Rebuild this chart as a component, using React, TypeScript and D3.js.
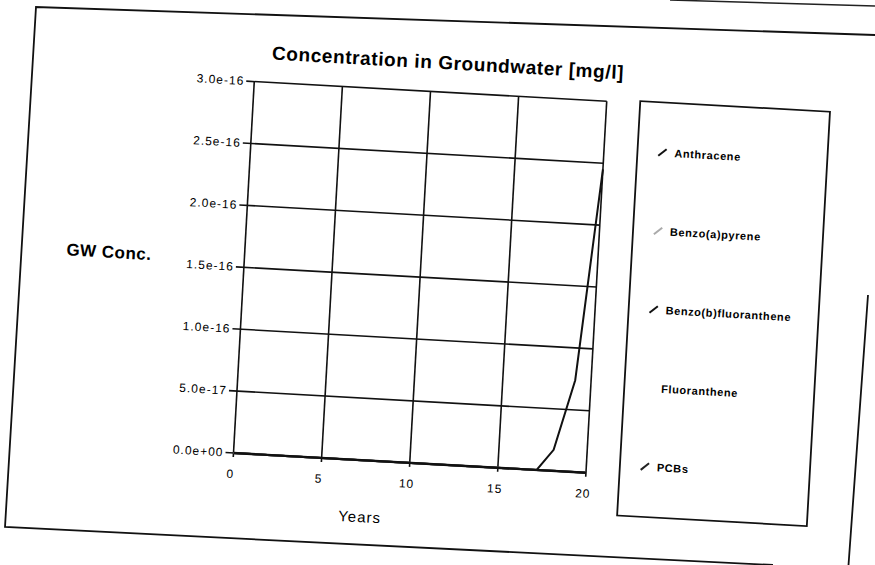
import { useEffect, useRef } from 'react';
import * as d3 from 'd3';

// values
const years = [0, 17.2, 18.1, 19.1, 20];
const seriesNames = [
  'Anthracene',
  'Benzo(a)pyrene',
  'Benzo(b)fluoranthene',
  'Fluoranthene',
  'PCBs',
];
const anthracene = [0, 0, 1.7e-17, 7.4e-17, 2.45e-16];
const benzoAPyrene = [0, 0, 0, 0, 0];
const benzoBFluoranthene = [0, 0, 0, 0, 0];
const fluoranthene = [0, 0, 0, 0, 0];
const pcbs = [0, 0, 0, 0, 0];
const seriesColors = ['#111', '#aaa', '#111', '#fff', '#222'];

const xTicks = [0, 5, 10, 15, 20];
const yTicks = [0, 5e-17, 1e-16, 1.5e-16, 2e-16, 2.5e-16, 3e-16];
const yTickLabels = ['0.0e+00', '5.0e-17', '1.0e-16', '1.5e-16', '2.0e-16', '2.5e-16', '3.0e-16'];

function App() {
  const svgRef = useRef<SVGSVGElement>(null);

  const width = 875,
    height = 565;

  useEffect(() => {
    const plot = { left: 233.5, right: 586.5, top: 81, bottom: 453 };
    const font = '"Liberation Sans", Arial, sans-serif';

    const x = d3.scaleLinear().domain([0, 20]).range([plot.left, plot.right]);
    const y = d3.scaleLinear().domain([0, 3e-16]).range([plot.bottom, plot.top]);

    const allSeries = [anthracene, benzoAPyrene, benzoBFluoranthene, fluoranthene, pcbs];

    d3.select(svgRef.current).selectAll('*').remove();

    const root = d3.select(svgRef.current);
    root.append('rect').attr('width', width).attr('height', height).attr('fill', '#fff');

    // outer chart frame, the paper is a bit bent so it is drawn edge by edge
    root
      .append('path')
      .attr('d', 'M875,35 L36,7 L5,527 L773,565 M868,295 L848.5,565')
      .attr('fill', 'none')
      .attr('stroke', '#111')
      .attr('stroke-width', 1.8);

    // edge of the paper showing at top right
    root
      .append('line')
      .attr('x1', 670)
      .attr('y1', 0)
      .attr('x2', 875)
      .attr('y2', 6)
      .attr('stroke', '#222')
      .attr('stroke-width', 1.5);

    // the page is scanned a little crooked
    const svg = root.append('g').attr('transform', `rotate(3.2, ${plot.left}, ${plot.bottom})`);

    svg
      .append('text')
      .text('Concentration in Groundwater [mg/l]')
      .attr('x', 426)
      .attr('y', 58)
      .attr('text-anchor', 'middle')
      .style('font-family', font)
      .style('font-weight', 'bold')
      .style('font-size', '19px')
      .style('letter-spacing', '0.6px');

    // gridlines
    svg
      .selectAll('line.hgrid')
      .data(yTicks)
      .join('line')
      .attr('x1', plot.left - 8)
      .attr('x2', plot.right)
      .attr('y1', (d) => y(d))
      .attr('y2', (d) => y(d))
      .attr('stroke', '#111')
      .attr('stroke-width', 1.6);

    svg
      .selectAll('line.vgrid')
      .data(xTicks)
      .join('line')
      .attr('x1', (d) => x(d))
      .attr('x2', (d) => x(d))
      .attr('y1', plot.top)
      .attr('y2', plot.bottom + 4)
      .attr('stroke', '#111')
      .attr('stroke-width', 1.6);

    svg
      .selectAll('text.ylab')
      .data(yTicks)
      .join('text')
      .text((d, i) => yTickLabels[i])
      .attr('x', plot.left - 10)
      .attr('y', (d) => y(d) + 4)
      .attr('text-anchor', 'end')
      .style('font-family', font)
      .style('font-size', '12px')
      .style('letter-spacing', '1px');

    svg
      .selectAll('text.xlab')
      .data(xTicks)
      .join('text')
      .text((d) => d)
      .attr('x', (d) => x(d) - 2)
      .attr('y', plot.bottom + 25)
      .attr('text-anchor', 'middle')
      .style('font-family', font)
      .style('font-size', '12px')
      .style('letter-spacing', '1px');

    svg
      .append('text')
      .text('Years')
      .attr('x', 363)
      .attr('y', 515)
      .attr('text-anchor', 'middle')
      .style('font-family', font)
      .style('font-size', '15px')
      .style('letter-spacing', '1px');

    svg
      .append('text')
      .text('GW Conc.')
      .attr('x', 98)
      .attr('y', 265)
      .attr('text-anchor', 'middle')
      .style('font-family', font)
      .style('font-weight', 'bold')
      .style('font-size', '17px')
      .style('letter-spacing', '0.5px');

    const line = d3
      .line<number>()
      .x((d, i) => x(years[i]))
      .y((d) => y(d));

    svg
      .selectAll('path.series')
      .data(allSeries)
      .join('path')
      .attr('d', (d) => line(d))
      .attr('fill', 'none')
      .attr('stroke', (d, i) => seriesColors[i])
      .attr('stroke-width', 2);

    // the x axis sits on top of the flat series
    svg
      .append('line')
      .attr('x1', plot.left)
      .attr('x2', plot.right)
      .attr('y1', plot.bottom)
      .attr('y2', plot.bottom)
      .attr('stroke', '#111')
      .attr('stroke-width', 2.4);

    // legend
    const legend = { left: 620, right: 810, top: 79, bottom: 494 };
    svg
      .append('rect')
      .attr('x', legend.left)
      .attr('y', legend.top)
      .attr('width', legend.right - legend.left)
      .attr('height', legend.bottom - legend.top)
      .attr('fill', 'none')
      .attr('stroke', '#111')
      .attr('stroke-width', 1.8);

    const ly = d3.scalePoint().domain(seriesNames).range([129, 443.6]);

    const items = svg
      .selectAll('g.item')
      .data(seriesNames)
      .join('g')
      .attr('transform', (d) => `translate(${legend.left + 25}, ${ly(d)})`);

    items
      .append('line')
      .attr('x1', -4)
      .attr('y1', 3.5)
      .attr('x2', 4)
      .attr('y2', -3.5)
      .attr('stroke', (d, i) => seriesColors[i])
      .attr('stroke-width', 2);

    items
      .append('text')
      .text((d) => d)
      .attr('x', 12)
      .attr('y', 4)
      .style('font-family', font)
      .style('font-weight', 'bold')
      .style('font-size', '11px')
      .style('letter-spacing', '0.6px');
  }, []);

  return (
    <div style={{ position: 'absolute', left: 0, top: 0 }}>
      <svg
        xmlns="http://www.w3.org/2000/svg"
        width={width}
        height={height}
        viewBox={`0 0 ${width} ${height}`}
        ref={svgRef}
        style={{ display: 'block' }}
      ></svg>
    </div>
  );
}

export default App;
